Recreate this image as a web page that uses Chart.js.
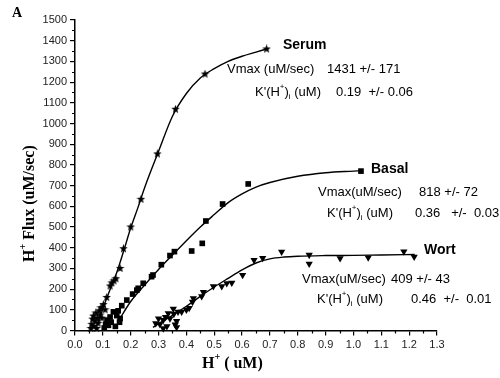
<!DOCTYPE html>
<html>
<head>
<meta charset="utf-8">
<script src="https://cdn.jsdelivr.net/npm/chart.js@4"></script>
<style>
  html, body { margin: 0; padding: 0; background: #fff; }
  #wrap { width: 500px; height: 378px; }
</style>
</head>
<body>
<div id="wrap"><canvas id="fluxChart" width="500" height="378"></canvas></div>
<script>
// axis ranges and tick steps
const xRange = [0, 1.3];
const yRange = [0, 1500];
const xStep = 0.1;
const yStep = 100;

// measured points [H+ (uM), flux (uM/sec)]
const serumPts = [
  [0.057, 10], [0.06, 30], [0.063, 55], [0.066, 70], [0.068, 20], [0.072, 45],
  [0.075, 85], [0.078, 10], [0.08, 60], [0.083, 35], [0.087, 95], [0.09, 75],
  [0.093, 110], [0.097, 60], [0.102, 125], [0.108, 100], [0.114, 160], [0.126, 215],
  [0.132, 230], [0.14, 240], [0.147, 250], [0.162, 300], [0.174, 395], [0.2, 500],
  [0.237, 634], [0.296, 853], [0.361, 1069], [0.467, 1239], [0.688, 1360]
];
const basalPts = [
  [0.105, 12], [0.11, 30], [0.115, 50], [0.12, 25], [0.126, 65], [0.13, 40],
  [0.138, 90], [0.145, 20], [0.15, 72], [0.155, 95], [0.16, 40], [0.162, 58],
  [0.168, 120], [0.186, 147], [0.207, 176], [0.222, 195], [0.227, 204], [0.245, 228],
  [0.275, 260], [0.28, 268], [0.31, 318], [0.341, 362], [0.357, 381], [0.419, 384],
  [0.457, 421], [0.47, 529], [0.53, 611], [0.622, 708], [1.027, 770]
];
const wortPts = [
  [0.29, 35], [0.3, 58], [0.305, 30], [0.317, 10], [0.317, 50], [0.325, 65],
  [0.33, 20], [0.335, 83], [0.341, 58], [0.353, 105], [0.355, 80], [0.36, 28],
  [0.365, 15], [0.365, 45], [0.37, 90], [0.383, 90], [0.4, 100], [0.41, 108],
  [0.422, 138], [0.425, 155], [0.455, 165], [0.461, 185], [0.497, 213], [0.527, 213],
  [0.545, 228], [0.563, 230], [0.602, 268], [0.643, 340], [0.674, 350], [0.742, 380],
  [0.841, 365], [0.841, 322], [0.952, 349], [1.053, 352], [1.181, 381], [1.218, 356]
];

// fitted curves
const serumFit = [
  [0.085, 40], [0.1, 105], [0.125, 195], [0.15, 280], [0.175, 385], [0.2, 495],
  [0.225, 590], [0.25, 690], [0.3, 865], [0.35, 1035], [0.4, 1145], [0.45, 1220],
  [0.5, 1265], [0.55, 1300], [0.6, 1325], [0.65, 1345], [0.688, 1360]
];
const basalFit = [
  [0.16, 55], [0.2, 140], [0.25, 220], [0.3, 295], [0.35, 365], [0.4, 434],
  [0.45, 500], [0.5, 560], [0.55, 618], [0.6, 660], [0.65, 693], [0.7, 715],
  [0.8, 745], [0.9, 762], [1.0, 770], [1.027, 772]
];
const wortFit = [
  [0.28, 15], [0.3, 33], [0.35, 73], [0.4, 117], [0.45, 165], [0.5, 210],
  [0.55, 252], [0.6, 293], [0.65, 326], [0.7, 346], [0.75, 355], [0.8, 359],
  [0.9, 362], [1.0, 363], [1.1, 365], [1.22, 367]
];

const toXY = arr => arr.map(p => ({ x: p[0], y: p[1] }));

// small filled five-point star used as marker
function starMarker(size) {
  const c = document.createElement('canvas');
  c.width = size; c.height = size;
  const g = c.getContext('2d');
  const cx = size / 2, cy = size / 2, ro = size / 2, ri = ro * 0.42;
  g.beginPath();
  for (let i = 0; i < 10; i++) {
    const r = i % 2 ? ri : ro;
    const a = -Math.PI / 2 + i * Math.PI / 5;
    g.lineTo(cx + r * Math.cos(a), cy + r * Math.sin(a));
  }
  g.closePath();
  g.fillStyle = '#000';
  g.fill();
  return c;
}

const sans = '"Liberation Sans", Arial, sans-serif';
const serif = '"Liberation Serif", "Times New Roman", serif';

// text with superscript / subscript runs: [text, 'n'|'sup'|'sub']
function drawRuns(ctx, x, y, runs, size, weight, family) {
  let cx = x;
  runs.forEach(r => {
    const small = r[1] !== 'n';
    const fs = small ? Math.round(size * 0.62) : size;
    ctx.font = weight + ' ' + fs + 'px ' + family;
    let dy = 0;
    if (r[1] === 'sup') dy = -size * 0.38;
    if (r[1] === 'sub') dy = size * 0.38;
    ctx.fillText(r[0], cx, y + dy);
    cx += ctx.measureText(r[0]).width;
  });
  return cx;
}

const kLabel = [["K'(H", 'n'], ['+', 'sup'], [')', 'n'], ['i', 'sub'], [' (uM)', 'n']];

const notes = {
  id: 'notes',
  afterDraw(chart) {
    const ctx = chart.ctx;
    const xs = chart.scales.x, ys = chart.scales.y;
    ctx.save();
    ctx.strokeStyle = '#000';
    ctx.lineWidth = 1.2;
    // minor ticks
    ctx.beginPath();
    for (let v = xRange[0] + xStep / 2; v < xRange[1]; v += xStep) {
      const px = Math.round(xs.getPixelForValue(v)) + 0.5;
      ctx.moveTo(px, ys.bottom);
      ctx.lineTo(px, ys.bottom + 3);
    }
    for (let v = yRange[0] + yStep / 2; v < yRange[1]; v += yStep) {
      const py = Math.round(ys.getPixelForValue(v)) + 0.5;
      ctx.moveTo(xs.left, py);
      ctx.lineTo(xs.left - 3, py);
    }
    ctx.stroke();

    ctx.fillStyle = '#000';
    ctx.textBaseline = 'middle';
    ctx.textAlign = 'left';

    // panel letter
    ctx.font = 'bold 14px ' + serif;
    ctx.fillText('A', 12, 13);

    // axis titles
    drawRuns(ctx, 202, 364, [['H', 'n'], ['+', 'sup'], [' ( uM)', 'n']], 16, 'bold', serif);
    ctx.save();
    ctx.translate(30, 262);
    ctx.rotate(-Math.PI / 2);
    drawRuns(ctx, 0, 0, [['H', 'n'], ['+', 'sup'], [' Flux (uM/sec)', 'n']], 16, 'bold', serif);
    ctx.restore();

    // Serum
    ctx.font = 'bold 14px ' + sans;
    ctx.fillText('Serum', 283, 45);
    ctx.font = '13px ' + sans;
    ctx.fillText('Vmax (uM/sec)', 227, 69);
    ctx.fillText('1431 +/- 171', 327, 69);
    drawRuns(ctx, 255, 92, kLabel, 13, 'normal', sans);
    ctx.font = '13px ' + sans;
    ctx.fillText('0.19  +/- 0.06', 336, 92);

    // Basal
    ctx.font = 'bold 14px ' + sans;
    ctx.fillText('Basal', 371, 169);
    ctx.font = '13px ' + sans;
    ctx.fillText('Vmax(uM/sec)', 318, 192);
    ctx.fillText('818 +/- 72', 419, 192);
    drawRuns(ctx, 327, 213, kLabel, 13, 'normal', sans);
    ctx.font = '13px ' + sans;
    ctx.fillText('0.36   +/-  0.03', 415, 213);

    // Wort
    ctx.font = 'bold 14px ' + sans;
    ctx.fillText('Wort', 424, 250);
    ctx.font = '13px ' + sans;
    ctx.fillText('Vmax(uM/sec)', 302, 279);
    ctx.fillText('409 +/- 43', 391, 279);
    drawRuns(ctx, 317, 299, kLabel, 13, 'normal', sans);
    ctx.font = '13px ' + sans;
    ctx.fillText('0.46  +/-  0.01', 411, 299);
    ctx.restore();
  }
};

const fitLine = data => ({
  data: toXY(data),
  showLine: true,
  borderColor: '#000',
  borderWidth: 1.4,
  pointRadius: 0,
  cubicInterpolationMode: 'monotone',
  clip: false
});

const ctx = document.getElementById('fluxChart').getContext('2d');
new Chart(ctx, {
  type: 'scatter',
  data: {
    datasets: [
      { label: 'Serum', data: toXY(serumPts), pointStyle: starMarker(9), backgroundColor: '#000', borderColor: '#000', clip: false },
      { label: 'Basal', data: toXY(basalPts), pointStyle: 'rect', pointRadius: 4, backgroundColor: '#000', borderColor: '#000', borderWidth: 0, clip: false },
      { label: 'Wort', data: toXY(wortPts), pointStyle: 'triangle', rotation: 180, pointRadius: 4.2, backgroundColor: '#000', borderColor: '#000', borderWidth: 0, clip: false },
      fitLine(serumFit),
      fitLine(basalFit),
      fitLine(wortFit)
    ]
  },
  options: {
    responsive: false,
    animation: false,
    layout: { padding: { top: 20, right: 63, left: 0, bottom: 0 } },
    plugins: { legend: { display: false }, tooltip: { enabled: false } },
    scales: {
      x: {
        type: 'linear',
        min: xRange[0], max: xRange[1],
        afterFit: s => { s.height = 47.5; },
        border: { display: true, color: '#000', width: 1.5 },
        grid: { display: true, drawOnChartArea: false, drawTicks: true, tickLength: 5, color: '#000', lineWidth: 1.2 },
        ticks: {
          stepSize: xStep, padding: 3, color: '#222',
          font: { family: sans, size: 11 },
          callback: v => Number(v).toFixed(1)
        }
      },
      y: {
        type: 'linear',
        min: yRange[0], max: yRange[1],
        afterFit: s => { s.width = 75; },
        border: { display: true, color: '#000', width: 1.5 },
        grid: { display: true, drawOnChartArea: false, drawTicks: true, tickLength: 5, color: '#000', lineWidth: 1.2 },
        ticks: {
          stepSize: yStep, padding: 3, color: '#222',
          font: { family: sans, size: 11 },
          callback: v => String(Math.round(v))
        }
      }
    }
  },
  plugins: [notes]
});
</script>
</body>
</html>
